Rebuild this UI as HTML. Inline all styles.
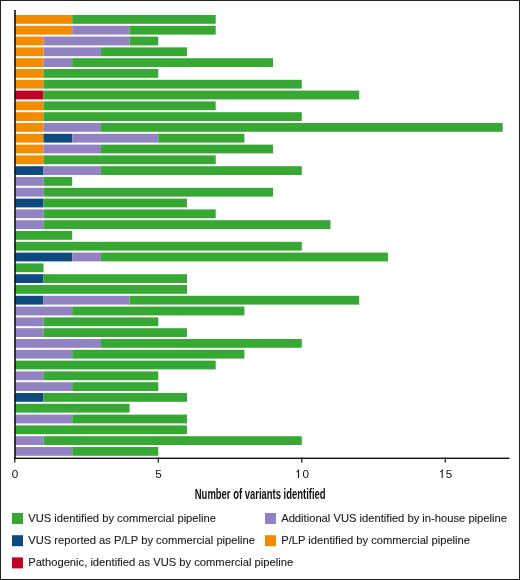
<!DOCTYPE html>
<html><head><meta charset="utf-8"><style>
html,body{margin:0;padding:0;background:#fff;}
body{width:520px;height:580px;overflow:hidden;}
svg{display:block;font-family:"Liberation Sans",sans-serif;will-change:transform;}
</style></head><body>
<svg width="520" height="580" viewBox="0 0 520 580">
<rect x="0" y="0" width="520" height="580" fill="#fff"/>
<rect x="14.80" y="15.00" width="57.40" height="8.8" fill="#f28c00"/>
<rect x="72.20" y="15.00" width="143.50" height="8.8" fill="#37a834"/>
<rect x="14.80" y="25.80" width="57.40" height="8.8" fill="#f28c00"/>
<rect x="72.20" y="25.80" width="57.40" height="8.8" fill="#9183c2"/>
<rect x="129.60" y="25.80" width="86.10" height="8.8" fill="#37a834"/>
<rect x="14.80" y="36.60" width="28.70" height="8.8" fill="#f28c00"/>
<rect x="43.50" y="36.60" width="86.10" height="8.8" fill="#9183c2"/>
<rect x="129.60" y="36.60" width="28.70" height="8.8" fill="#37a834"/>
<rect x="14.80" y="47.40" width="28.70" height="8.8" fill="#f28c00"/>
<rect x="43.50" y="47.40" width="57.40" height="8.8" fill="#9183c2"/>
<rect x="100.90" y="47.40" width="86.10" height="8.8" fill="#37a834"/>
<rect x="14.80" y="58.20" width="28.70" height="8.8" fill="#f28c00"/>
<rect x="43.50" y="58.20" width="28.70" height="8.8" fill="#9183c2"/>
<rect x="72.20" y="58.20" width="200.90" height="8.8" fill="#37a834"/>
<rect x="14.80" y="69.00" width="28.70" height="8.8" fill="#f28c00"/>
<rect x="43.50" y="69.00" width="114.80" height="8.8" fill="#37a834"/>
<rect x="14.80" y="79.80" width="28.70" height="8.8" fill="#f28c00"/>
<rect x="43.50" y="79.80" width="258.30" height="8.8" fill="#37a834"/>
<rect x="14.80" y="90.60" width="28.70" height="8.8" fill="#c00325"/>
<rect x="43.50" y="90.60" width="315.70" height="8.8" fill="#37a834"/>
<rect x="14.80" y="101.40" width="28.70" height="8.8" fill="#f28c00"/>
<rect x="43.50" y="101.40" width="172.20" height="8.8" fill="#37a834"/>
<rect x="14.80" y="112.20" width="28.70" height="8.8" fill="#f28c00"/>
<rect x="43.50" y="112.20" width="258.30" height="8.8" fill="#37a834"/>
<rect x="14.80" y="123.00" width="28.70" height="8.8" fill="#f28c00"/>
<rect x="43.50" y="123.00" width="57.40" height="8.8" fill="#9183c2"/>
<rect x="100.90" y="123.00" width="401.80" height="8.8" fill="#37a834"/>
<rect x="14.80" y="133.80" width="28.70" height="8.8" fill="#f28c00"/>
<rect x="43.50" y="133.80" width="28.70" height="8.8" fill="#0e4a80"/>
<rect x="72.20" y="133.80" width="86.10" height="8.8" fill="#9183c2"/>
<rect x="158.30" y="133.80" width="86.10" height="8.8" fill="#37a834"/>
<rect x="14.80" y="144.60" width="28.70" height="8.8" fill="#f28c00"/>
<rect x="43.50" y="144.60" width="57.40" height="8.8" fill="#9183c2"/>
<rect x="100.90" y="144.60" width="172.20" height="8.8" fill="#37a834"/>
<rect x="14.80" y="155.40" width="28.70" height="8.8" fill="#f28c00"/>
<rect x="43.50" y="155.40" width="172.20" height="8.8" fill="#37a834"/>
<rect x="14.80" y="166.20" width="28.70" height="8.8" fill="#0e4a80"/>
<rect x="43.50" y="166.20" width="57.40" height="8.8" fill="#9183c2"/>
<rect x="100.90" y="166.20" width="200.90" height="8.8" fill="#37a834"/>
<rect x="14.80" y="177.00" width="28.70" height="8.8" fill="#9183c2"/>
<rect x="43.50" y="177.00" width="28.70" height="8.8" fill="#37a834"/>
<rect x="14.80" y="187.80" width="28.70" height="8.8" fill="#9183c2"/>
<rect x="43.50" y="187.80" width="229.60" height="8.8" fill="#37a834"/>
<rect x="14.80" y="198.60" width="28.70" height="8.8" fill="#0e4a80"/>
<rect x="43.50" y="198.60" width="143.50" height="8.8" fill="#37a834"/>
<rect x="14.80" y="209.40" width="28.70" height="8.8" fill="#9183c2"/>
<rect x="43.50" y="209.40" width="172.20" height="8.8" fill="#37a834"/>
<rect x="14.80" y="220.20" width="28.70" height="8.8" fill="#9183c2"/>
<rect x="43.50" y="220.20" width="287.00" height="8.8" fill="#37a834"/>
<rect x="14.80" y="231.00" width="57.40" height="8.8" fill="#37a834"/>
<rect x="14.80" y="241.80" width="287.00" height="8.8" fill="#37a834"/>
<rect x="14.80" y="252.60" width="57.40" height="8.8" fill="#0e4a80"/>
<rect x="72.20" y="252.60" width="28.70" height="8.8" fill="#9183c2"/>
<rect x="100.90" y="252.60" width="287.00" height="8.8" fill="#37a834"/>
<rect x="14.80" y="263.40" width="28.70" height="8.8" fill="#37a834"/>
<rect x="14.80" y="274.20" width="28.70" height="8.8" fill="#0e4a80"/>
<rect x="43.50" y="274.20" width="143.50" height="8.8" fill="#37a834"/>
<rect x="14.80" y="285.00" width="172.20" height="8.8" fill="#37a834"/>
<rect x="14.80" y="295.80" width="28.70" height="8.8" fill="#0e4a80"/>
<rect x="43.50" y="295.80" width="86.10" height="8.8" fill="#9183c2"/>
<rect x="129.60" y="295.80" width="229.60" height="8.8" fill="#37a834"/>
<rect x="14.80" y="306.60" width="57.40" height="8.8" fill="#9183c2"/>
<rect x="72.20" y="306.60" width="172.20" height="8.8" fill="#37a834"/>
<rect x="14.80" y="317.40" width="28.70" height="8.8" fill="#9183c2"/>
<rect x="43.50" y="317.40" width="114.80" height="8.8" fill="#37a834"/>
<rect x="14.80" y="328.20" width="28.70" height="8.8" fill="#9183c2"/>
<rect x="43.50" y="328.20" width="143.50" height="8.8" fill="#37a834"/>
<rect x="14.80" y="339.00" width="86.10" height="8.8" fill="#9183c2"/>
<rect x="100.90" y="339.00" width="200.90" height="8.8" fill="#37a834"/>
<rect x="14.80" y="349.80" width="57.40" height="8.8" fill="#9183c2"/>
<rect x="72.20" y="349.80" width="172.20" height="8.8" fill="#37a834"/>
<rect x="14.80" y="360.60" width="200.90" height="8.8" fill="#37a834"/>
<rect x="14.80" y="371.40" width="28.70" height="8.8" fill="#9183c2"/>
<rect x="43.50" y="371.40" width="114.80" height="8.8" fill="#37a834"/>
<rect x="14.80" y="382.20" width="57.40" height="8.8" fill="#9183c2"/>
<rect x="72.20" y="382.20" width="86.10" height="8.8" fill="#37a834"/>
<rect x="14.80" y="393.00" width="28.70" height="8.8" fill="#0e4a80"/>
<rect x="43.50" y="393.00" width="143.50" height="8.8" fill="#37a834"/>
<rect x="14.80" y="403.80" width="114.80" height="8.8" fill="#37a834"/>
<rect x="14.80" y="414.60" width="57.40" height="8.8" fill="#9183c2"/>
<rect x="72.20" y="414.60" width="114.80" height="8.8" fill="#37a834"/>
<rect x="14.80" y="425.40" width="172.20" height="8.8" fill="#37a834"/>
<rect x="14.80" y="436.20" width="28.70" height="8.8" fill="#9183c2"/>
<rect x="43.50" y="436.20" width="258.30" height="8.8" fill="#37a834"/>
<rect x="14.80" y="447.00" width="57.40" height="8.8" fill="#9183c2"/>
<rect x="72.20" y="447.00" width="86.10" height="8.8" fill="#37a834"/>
<rect x="14.2" y="10.0" width="1.6" height="449.00" fill="#111"/>
<rect x="14.2" y="457.6" width="495.30" height="1.4" fill="#111"/>
<rect x="14.20" y="457.60" width="1.2" height="5.0" fill="#111"/>
<rect x="157.70" y="457.60" width="1.2" height="5.0" fill="#111"/>
<rect x="301.20" y="457.60" width="1.2" height="5.0" fill="#111"/>
<rect x="444.70" y="457.60" width="1.2" height="5.0" fill="#111"/>
<text x="15.10" y="478.0" text-anchor="middle" font-size="11.7" fill="#111">0</text>
<text x="158.40" y="478.0" text-anchor="middle" font-size="11.7" fill="#111">5</text>
<rect x="297.95" y="469.80" width="1.1" height="8.20" fill="#111"/><path d="M298.85 469.80 L296.30 472.00" stroke="#111" stroke-width="1.0" fill="none"/>
<text x="305.70" y="478.0" text-anchor="middle" font-size="11.7" fill="#111">0</text>
<rect x="441.65" y="469.80" width="1.1" height="8.20" fill="#111"/><path d="M442.55 469.80 L440.00 472.00" stroke="#111" stroke-width="1.0" fill="none"/>
<text x="448.95" y="478.0" text-anchor="middle" font-size="11.7" fill="#111">5</text>
<text x="194.8" y="499.3" font-size="14.2" fill="#111" transform="translate(194.8 0) scale(0.667 1) translate(-194.8 0)" font-weight="bold">Number of variants identified</text>
<rect x="12" y="513.00" width="11" height="11" fill="#37a834"/>
<text x="28.20" y="521.80" font-size="11.2" fill="#1e1e1e" stroke="#1e1e1e" stroke-width="0.12">VUS identified by commercial pipeline</text>
<rect x="12" y="535.20" width="11" height="11" fill="#0e4a80"/>
<text x="28.20" y="544.00" font-size="11.2" fill="#1e1e1e" stroke="#1e1e1e" stroke-width="0.12">VUS reported as P/LP by commercial pipeline</text>
<rect x="12" y="557.40" width="11" height="11" fill="#c00325"/>
<text x="28.20" y="566.20" font-size="11.2" fill="#1e1e1e" stroke="#1e1e1e" stroke-width="0.12">Pathogenic, identified as VUS by commercial pipeline</text>
<rect x="265" y="513.00" width="11" height="11" fill="#9183c2"/>
<text x="281.20" y="521.80" font-size="11.2" fill="#1e1e1e" stroke="#1e1e1e" stroke-width="0.12">Additional VUS identified by in-house pipeline</text>
<rect x="265" y="535.20" width="11" height="11" fill="#f28c00"/>
<text x="281.20" y="544.00" font-size="11.2" fill="#1e1e1e" stroke="#1e1e1e" stroke-width="0.12">P/LP identified by commercial pipeline</text>
<rect x="0.5" y="0.5" width="519" height="579" fill="none" stroke="#222" stroke-width="1"/>
</svg>
</body></html>
